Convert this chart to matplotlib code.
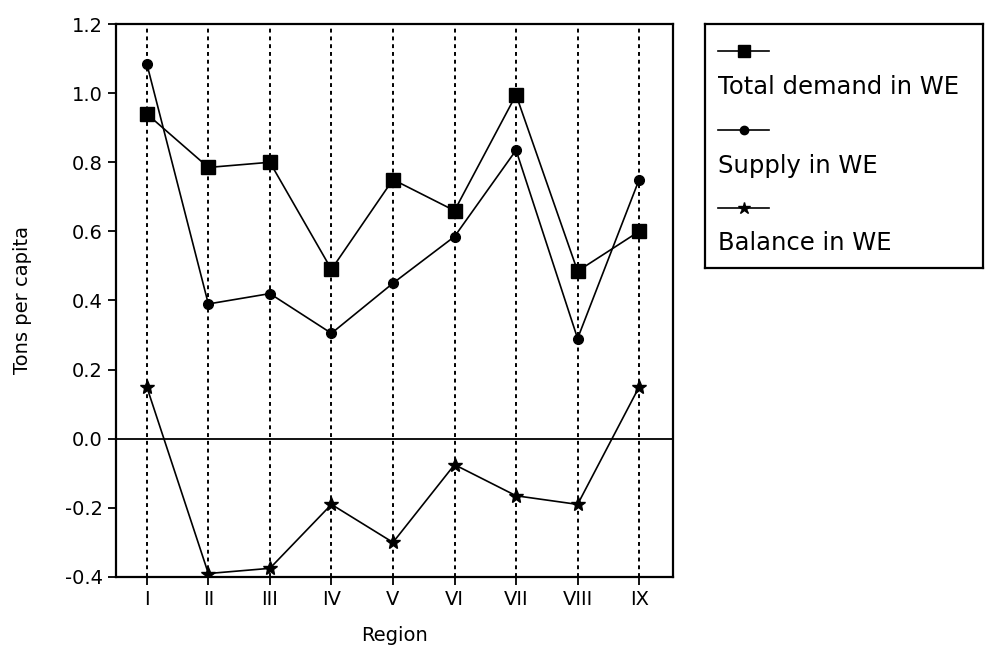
import matplotlib
matplotlib.use("Agg")
import matplotlib.pyplot as plt
from matplotlib.lines import Line2D

regions = ["I", "II", "III", "IV", "V", "VI", "VII", "VIII", "IX"]
total_demand = [0.94, 0.785, 0.80, 0.49, 0.75, 0.66, 0.995, 0.485, 0.60]
supply = [1.085, 0.39, 0.42, 0.305, 0.45, 0.585, 0.835, 0.29, 0.75]
balance = [0.15, -0.39, -0.375, -0.19, -0.30, -0.075, -0.165, -0.19, 0.15]
yticks = [-0.4, -0.2, 0.0, 0.2, 0.4, 0.6, 0.8, 1.0, 1.2]
series_labels = ["Total demand in WE", "Supply in WE", "Balance in WE"]

plt.rcParams['font.family'] = ['DejaVu Sans']

fig = plt.figure(figsize=(9.96, 6.6), dpi=100)
ax = fig.add_axes([0.1165, 0.1258, 0.5592, 0.8378])

x = list(range(len(regions)))
for xi in x:
    ax.axvline(xi, color='black', lw=1.4, ls=(0, (2, 2)), zorder=1)
ax.axhline(0, color='black', lw=1.3, zorder=1)

styles = [dict(marker='s', ms=9.5), dict(marker='o', ms=7), dict(marker='*', ms=10)]
for vals, st in zip([total_demand, supply, balance], styles):
    ax.plot(x, vals, color='black', lw=1.2, mfc='black', mec='black', zorder=3, **st)

ax.set_xlim(-0.5, 8.55)
ax.set_ylim(-0.4, 1.2)
ax.set_yticks(yticks)
ax.set_yticklabels([f"{v:.1f}" for v in yticks])
ax.set_xticks(x)
ax.set_xticklabels(regions)
ax.tick_params(axis='both', labelsize=14, length=6, width=1.3, direction='out', color='black')
for s in ax.spines.values():
    s.set_linewidth(1.6)
ax.set_xlabel("Region", fontsize=14, labelpad=12)
ax.set_ylabel("Tons per capita", fontsize=14, labelpad=24)

# Legend box
lax = fig.add_axes([705 / 996, 1 - 268 / 660, 278 / 996, 244 / 660])
lax.set_xlim(0, 278)
lax.set_ylim(244, 0)
lax.set_xticks([])
lax.set_yticks([])
for s in lax.spines.values():
    s.set_linewidth(1.6)
sample_y = [27, 106, 184]
text_y = [63, 142, 219]
leg_ms = [8, 6, 9]
for st, lab, sy, ty, ms in zip(styles, series_labels, sample_y, text_y, leg_ms):
    lax.add_line(Line2D([13, 64], [sy, sy], color='black', lw=1.2))
    lax.plot([38.5], [sy], color='black', ls='none', mfc='black', mec='black',
             marker=st['marker'], ms=ms)
    lax.text(13, ty, lab, fontsize=17.5, va='center', ha='left')

fig.savefig("out.png", dpi=100)
